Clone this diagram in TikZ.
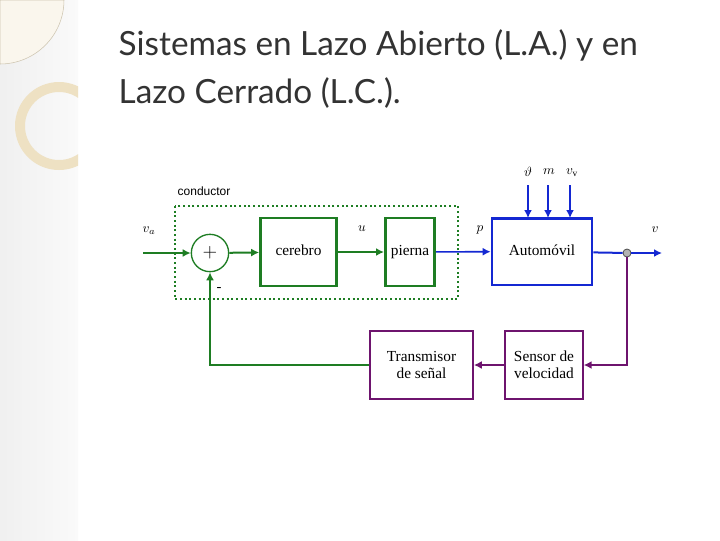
\documentclass[tikz,border=0pt]{standalone}
\usepackage{fontspec}
\setmainfont{Liberation Serif}
\newfontfamily\titlefont{Lato}
\newfontfamily\labfont{Liberation Sans}
\usetikzlibrary{arrows.meta}
\definecolor{gr}{RGB}{30,125,35}
\definecolor{bl}{RGB}{20,40,210}
\definecolor{pu}{RGB}{110,20,110}
\definecolor{ring}{RGB}{238,225,195}
\tikzset{
 gbox/.style={draw=gr,line width=2pt,minimum width=#1,minimum height=51pt,inner sep=0pt,text height=1.6ex,text depth=0.4ex,font=\fontsize{11.5}{12}\selectfont},
 bbox/.style={draw=bl,line width=2pt,minimum width=75pt,minimum height=50pt,inner sep=0pt,text height=1.6ex,text depth=0.4ex,font=\fontsize{11.5}{12}\selectfont},
 pbox/.style={draw=pu,line width=1.5pt,minimum width=#1,minimum height=51pt,inner sep=0pt,align=center,font=\fontsize{11.5}{12.5}\selectfont},
 ga/.style={draw=gr,line width=1.5pt,-{Latex[length=6pt,width=6pt]}},
 ba/.style={draw=bl,line width=1.2pt,-{Latex[length=6pt,width=6pt]}},
 pa/.style={draw=pu,line width=1.5pt,-{Latex[length=6pt,width=6pt]}},
 lab/.style={font=\itshape\fontsize{10}{12}\selectfont}
}
\begin{document}
\begin{tikzpicture}[x=0.75pt,y=-0.75pt]
\useasboundingbox (0,0) rectangle (720,540);
\fill[white] (0,0) rectangle (720,540);
\shade[left color=gray!12,right color=gray!4] (0,0) rectangle (78,540);
\begin{scope}
\clip (0,0) rectangle (78,540);
\draw[ring!70!gray,line width=0.4pt,fill=ring!30] (0,0) -- (64,0) arc (0:90:64) -- cycle;
\fill[ring,even odd rule] (59,126) circle (44) (59,126) circle (34);
\end{scope}
\node[anchor=west,font=\titlefont\fontsize{25}{28}\selectfont,text=black!80] (t1) at (114,45) {Sistemas en Lazo Abierto (L.A.) y en};
\node[anchor=west,font=\titlefont\fontsize{25}{28}\selectfont,text=black!80] (t2) at (114,93) {Lazo Cerrado (L.C.).};
% diagram
\node[anchor=west,font=\labfont\fontsize{9}{10}\selectfont] (cond) at (173,191) {conductor};
\draw[gr,line width=1.5pt,dotted] (175,206) rectangle (458,299);
\node[draw=gr,circle,line width=1pt,minimum size=28pt,inner sep=0pt,font=\fontsize{14}{14}\selectfont] (sum) at (210,253) {$+$};
\node[gbox=57pt] (cer) at (298.5,252) {cerebro};
\node[gbox=37pt] (pie) at (410,252) {pierna};
\node[bbox] (auto) at (542,251.5) {Automóvil};
\node[pbox=77pt] (tra) at (421.5,365) {Transmisor\\de señal};
\node[pbox=58pt] (sen) at (544,365) {Sensor de\\velocidad};
\node[circle,draw=black!70,fill=gray!60,line width=0.6pt,minimum size=6pt,inner sep=0pt] (o) at (627,253) {};
\coordinate (in) at (143,253);
\coordinate (out) at (662,253);
\draw[ga] (in) -- (sum);
\draw[ga] (sum) -- (cer);
\draw[ga] (cer) -- (pie);
\draw[ba] (pie) -- (auto);
\draw[bl,line width=1.5pt] (auto) -- (o);
\draw[ba] (o) -- (out);
\foreach \xx/\t in {528/th,548/m,570/vy}{
 \coordinate (s\t) at (\xx,185);
 \draw[bl,line width=1.8pt,-{Latex[length=6pt,width=6pt]}] (s\t) -- (\xx,218);
}
\node[lab] at (528,172) {$\vartheta$};
\node[lab] at (549,172) {$m$};
\node[lab] at (572,173) {$v_{\mathrm{v}}$};
\draw[pa] (o) |- (sen.east);
\draw[pa] (sen) -- (tra);
\draw[ga] (tra.west) -| (sum.south);
\node[lab] at (149,231) {$v_a$};
\node[lab] at (362,229) {$u$};
\node[lab] at (480,230) {$p$};
\node[lab] at (655,230) {$v$};
\node[font=\fontsize{11}{12}\selectfont] at (219,289) {-};
\end{tikzpicture}
\end{document}
